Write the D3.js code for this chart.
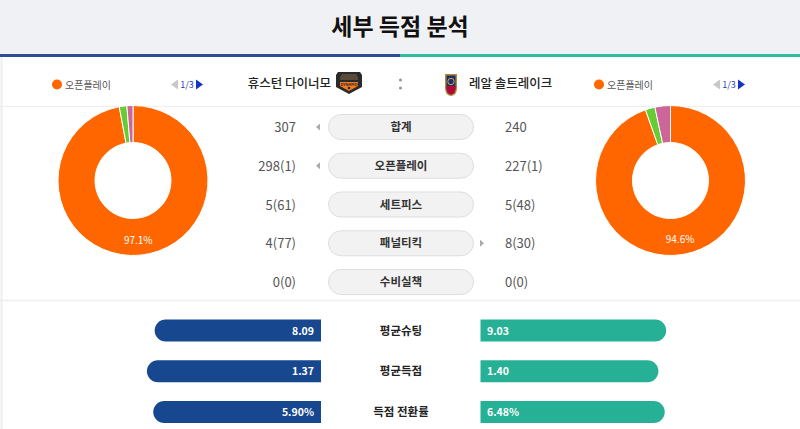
<!DOCTYPE html>
<html>
<head>
<meta charset="utf-8">
<script src="https://cdn.jsdelivr.net/npm/d3@7/dist/d3.min.js"></script>
<style>
html,body{margin:0;padding:0;background:#fff;}
svg{display:block;font-family:"Noto Sans CJK KR","Noto Sans",sans-serif;}
</style>
</head>
<body>
<svg id="chart" width="800" height="429"></svg>
<script>
// ---- data ----
const title = "세부 득점 분석";
const homeTeam = "휴스턴 다이너모";
const awayTeam = "레알 솔트레이크";
const categories = ["합계", "오픈플레이", "세트피스", "패널티킥", "수비실책"];
const homeGoals = [307, 298, 5, 4, 0];
const homeRanks = [null, 1, 61, 77, 0];
const awayGoals = [240, 227, 5, 8, 0];
const awayRanks = [null, 1, 48, 30, 0];
const pieCategories = ["오픈플레이", "세트피스", "패널티킥"];
const homePie = [298, 5, 4];
const awayPie = [227, 5, 8];
const pieColors = ["#ff6600", "#66cc33", "#cc6699"];
const legendLabel = "오픈플레이";
const pageLabel = "1/3";
const statLabels = ["평균슈팅", "평균득점", "득점 전환률"];
const homeStats = [8.09, 1.37, 5.90];
const awayStats = [9.03, 1.40, 6.48];
const statSuffix = ["", "", "%"];

// ---- drawing ----
const svg = d3.select("#chart");
const W = 800;
const blue = "#17478f", teal = "#26b196";

// header
svg.append("rect").attr("x", 0).attr("y", 0).attr("width", W).attr("height", 55).attr("fill", "#f0f1f4");
svg.append("text").attr("x", 400).attr("y", 35).attr("text-anchor", "middle")
  .attr("font-size", 23).attr("font-weight", 700).attr("fill", "#111").text(title);
svg.append("rect").attr("x", 0).attr("y", 54).attr("width", 400).attr("height", 3).attr("fill", "#2b4c9b");
svg.append("rect").attr("x", 400).attr("y", 54).attr("width", 400).attr("height", 3).attr("fill", "#2fbc9d");

// frame lines
svg.append("line").attr("x1", 1.5).attr("x2", 1.5).attr("y1", 57).attr("y2", 429).attr("stroke", "#eeeeee").attr("stroke-width", 2);
svg.append("line").attr("x1", 0).attr("x2", W).attr("y1", 106.5).attr("y2", 106.5).attr("stroke", "#eeeeee");
svg.append("line").attr("x1", 0).attr("x2", W).attr("y1", 300.5).attr("y2", 300.5).attr("stroke", "#eeeeee").attr("stroke-width", 1.5);

// team row
svg.append("text").attr("x", 331).attr("y", 88).attr("text-anchor", "end")
  .attr("font-size", 12.5).attr("font-weight", 500).attr("fill", "#222").text(homeTeam);
svg.append("text").attr("x", 469).attr("y", 88).attr("text-anchor", "start")
  .attr("font-size", 12.5).attr("font-weight", 500).attr("fill", "#222").text(awayTeam);
svg.append("circle").attr("cx", 400.5).attr("cy", 80).attr("r", 1.6).attr("fill", "#999");
svg.append("circle").attr("cx", 400.5).attr("cy", 88).attr("r", 1.6).attr("fill", "#999");

// Houston logo (badge)
const hl = svg.append("g").attr("transform", "translate(336,72)");
hl.append("path").attr("d", "M2,0 H24 L26,3 V15 L13,22 L0,15 V3 Z").attr("fill", "#2a2a2a");
hl.append("path").attr("d", "M4,10 H22 V14 L13,19 L4,14 Z").attr("fill", "#f47b20");
hl.append("path").attr("d", "M6,2 H20 L22,5 V8 H4 V5 Z").attr("fill", "#5a4a3a");
hl.append("text").attr("x", 13).attr("y", 13.5).attr("text-anchor", "middle").attr("font-size", 4).attr("fill", "#2a2a2a").attr("font-weight", 700).text("DYNAMO");
hl.append("circle").attr("cx", 13).attr("cy", 16).attr("r", 1.3).attr("fill", "#2a2a2a");

// RSL logo (shield)
const rl = svg.append("g").attr("transform", "translate(445,72)");
rl.append("path").attr("d", "M0,2 H12 V16 Q12,23 6,24 Q0,23 0,16 Z").attr("fill", "#b5893a");
rl.append("path").attr("d", "M1.5,3.5 H10.5 V16 Q10.5,21.5 6,22.5 Q1.5,21.5 1.5,16 Z").attr("fill", "#1c2f6e");
rl.append("path").attr("d", "M1.5,14 H10.5 V16 Q10.5,21.5 6,22.5 Q1.5,21.5 1.5,16 Z").attr("fill", "#b30838");
rl.append("circle").attr("cx", 6).attr("cy", 9.5).attr("r", 3.2).attr("fill", "none").attr("stroke", "#d6a84a").attr("stroke-width", 1);

// legends + pagination
function legend(x0, pagX) {
  svg.append("circle").attr("cx", x0).attr("cy", 84.5).attr("r", 5).attr("fill", pieColors[0]);
  svg.append("text").attr("x", x0 + 8).attr("y", 88.5).attr("font-size", 10).attr("fill", "#555").text(legendLabel);
  svg.append("path").attr("d", `M${pagX},84.5 l7,-5 v10 z`).attr("fill", "#c8c8c8");
  svg.append("text").attr("x", pagX + 16).attr("y", 88).attr("text-anchor", "middle")
    .attr("font-size", 9).attr("fill", "#1f3fb5").text(pageLabel);
  svg.append("path").attr("d", `M${pagX + 32},84.5 l-7,-5 v10 z`).attr("fill", "#1533c9");
}
legend(57, 171);
legend(599, 713);

// donuts
const pie = d3.pie().sort(null).value(d => d);
const arc = d3.arc().innerRadius(38).outerRadius(75);
function donut(cx, cy, values) {
  const g = svg.append("g").attr("transform", `translate(${cx},${cy})`);
  const arcs = pie(values);
  const total = d3.sum(values);
  g.selectAll("path").data(arcs).join("path")
    .attr("d", arc).attr("fill", (d, i) => pieColors[i])
    .attr("stroke", "#fff").attr("stroke-width", 1);
  const c = arc.centroid(arcs[0]);
  g.append("text").attr("x", c[0]).attr("y", c[1] + 7).attr("text-anchor", "middle")
    .attr("font-size", 10).attr("fill", "#fff").text(d3.format(".1%")(values[0] / total));
}
donut(133, 180.5, homePie);
donut(670.5, 180.5, awayPie);

// middle table
const rowY = d3.scalePoint().domain(categories).range([127, 282]);
categories.forEach((cat, i) => {
  const y = rowY(cat);
  svg.append("rect").attr("x", 328.5).attr("y", y - 12.5).attr("width", 145).attr("height", 25)
    .attr("rx", 12.5).attr("fill", "#f2f2f2").attr("stroke", "#dedede");
  svg.append("text").attr("x", 401).attr("y", y + 4).attr("text-anchor", "middle")
    .attr("font-size", 11.5).attr("font-weight", 700).attr("fill", "#333").text(cat);
  const hv = homeGoals[i] + (homeRanks[i] === null ? "" : `(${homeRanks[i]})`);
  const av = awayGoals[i] + (awayRanks[i] === null ? "" : `(${awayRanks[i]})`);
  svg.append("text").attr("x", 296).attr("y", y + 5).attr("text-anchor", "end")
    .attr("font-size", 13).attr("fill", "#555").text(hv);
  svg.append("text").attr("x", 505).attr("y", y + 5).attr("text-anchor", "start")
    .attr("font-size", 13).attr("fill", "#555").text(av);
  if (homeGoals[i] > awayGoals[i]) {
    svg.append("path").attr("d", `M316,${y} l4,-3.5 v7 z`).attr("fill", "#aaa");
  } else if (awayGoals[i] > homeGoals[i]) {
    svg.append("path").attr("d", `M484,${y} l-4,-3.5 v7 z`).attr("fill", "#aaa");
  }
});

// bottom stat bars
const barY = d3.scalePoint().domain(statLabels).range([330.5, 412]);
const len = d3.scaleLinear().domain([0, 1]).range([0, 352]);
const bh = 22, r = 11;
function leftBar(xEnd, w, yc) {
  const x0 = xEnd - w, y0 = yc - bh / 2;
  return `M${xEnd},${y0} H${x0 + r} A${r},${r} 0 0 0 ${x0 + r},${y0 + bh} H${xEnd} Z`;
}
function rightBar(xStart, w, yc) {
  const x1 = xStart + w, y0 = yc - bh / 2;
  return `M${xStart},${y0} H${x1 - r} A${r},${r} 0 0 1 ${x1 - r},${y0 + bh} H${xStart} Z`;
}
statLabels.forEach((lab, i) => {
  const y = barY(lab);
  const tot = homeStats[i] + awayStats[i];
  const hw = len(homeStats[i] / tot), aw = len(awayStats[i] / tot);
  svg.append("path").attr("d", leftBar(321, hw, y)).attr("fill", blue);
  svg.append("path").attr("d", rightBar(480.5, aw, y)).attr("fill", teal);
  svg.append("text").attr("x", 314).attr("y", y + 4).attr("text-anchor", "end")
    .attr("font-size", 10.5).attr("font-weight", 700).attr("fill", "#fff")
    .text(homeStats[i].toFixed(2) + statSuffix[i]);
  svg.append("text").attr("x", 487).attr("y", y + 4).attr("text-anchor", "start")
    .attr("font-size", 10.5).attr("font-weight", 700).attr("fill", "#fff")
    .text(awayStats[i].toFixed(2) + statSuffix[i]);
  svg.append("text").attr("x", 401).attr("y", y + 4).attr("text-anchor", "middle")
    .attr("font-size", 11.5).attr("font-weight", 700).attr("fill", "#222").text(lab);
});
</script>
</body>
</html>
